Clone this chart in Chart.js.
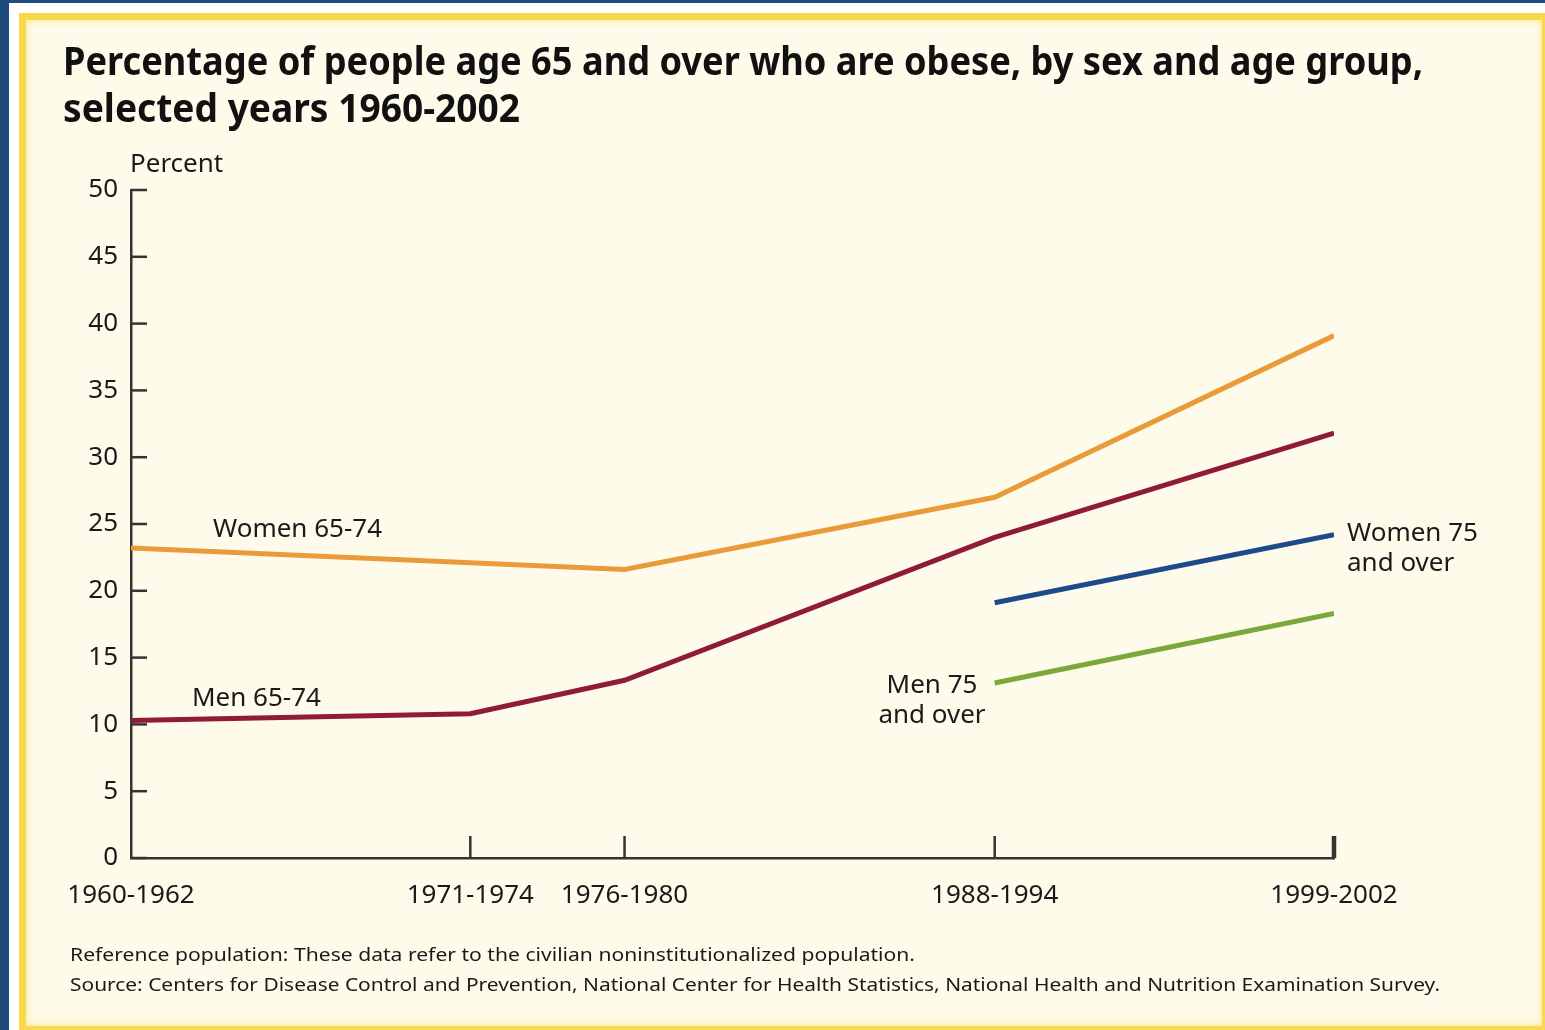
<!DOCTYPE html>
<html>
<head>
<meta charset="utf-8">
<script src="https://cdn.jsdelivr.net/npm/chart.js@4.4.1/dist/chart.umd.min.js"></script>
<style>
  html, body { margin: 0; padding: 0; }
  body { width: 1545px; height: 1030px; background: #1f4a7e; position: relative; overflow: hidden; }
  #gap { position: absolute; left: 9px; top: 3px; right: 0; bottom: 0; background: #ffffff; }
  #frame { position: absolute; left: 19px; top: 13px; width: 1530px; height: 1020px; box-sizing: border-box;
           border: 7px solid #f7d94a; background: #fffbea; box-shadow: inset 0 0 8px #fbe68a; }
  #myChart { position: absolute; left: 0; top: 0; }
</style>
</head>
<body>
<div id="gap"></div>
<div id="frame"></div>
<canvas id="myChart" width="1545" height="1030"></canvas>
<script>
const periods = ['1960-1962', '1971-1974', '1976-1980', '1988-1994', '1999-2002'];
const periodStart = [1960, 1971, 1976, 1988, 1999]; // 구간 시작 연도 = x 위치
const women6574 = [23.2, 22.1, 21.6, 27.0, 39.1];
const men6574 = [10.3, 10.8, 13.3, 24.0, 31.8];
const women75 = [null, null, null, 19.1, 24.2];
const men75 = [null, null, null, 13.1, 18.3];
const yTicks = [0, 5, 10, 15, 20, 25, 30, 35, 40, 45, 50];

const FONT = '"Noto Sans", sans-serif';
const INK = '#1a1a1a';

function toPoints(values) {
  return periodStart.map((x, i) => ({x: x, y: values[i]}));
}

// 가로 폭에 맞춰 글자 그리기
function fitText(ctx, text, x, y, width) {
  const w = ctx.measureText(text).width;
  ctx.save();
  ctx.translate(x, y);
  ctx.scale(width / w, 1);
  ctx.fillText(text, 0, 0);
  ctx.restore();
}

const lineLabels = [
  {lines: ['Women 65-74'], x: 213, y: 530, align: 'left'},
  {lines: ['Men 65-74'], x: 192, y: 699, align: 'left'},
  {lines: ['Women 75', 'and over'], x: 1347, y: 534, align: 'left'},
  {lines: ['Men 75', 'and over'], x: 932, y: 686, align: 'center'}
];

const decor = {
  id: 'decor',
  afterDraw(chart) {
    const ctx = chart.ctx;
    const xs = chart.scales.x, ys = chart.scales.y;
    const area = chart.chartArea;
    ctx.save();
    ctx.strokeStyle = '#333333';
    ctx.lineCap = 'butt';
    // y 눈금 (안쪽)
    ctx.lineWidth = 2.5;
    yTicks.forEach(v => {
      const py = ys.getPixelForValue(v);
      ctx.beginPath();
      ctx.moveTo(area.left, py);
      ctx.lineTo(area.left + 16, py);
      ctx.stroke();
    });
    // x 눈금 (위쪽)
    periodStart.slice(1).forEach((v, i) => {
      const px = xs.getPixelForValue(v);
      ctx.lineWidth = i === periodStart.length - 2 ? 4.5 : 2.5;
      ctx.beginPath();
      ctx.moveTo(px, area.bottom);
      ctx.lineTo(px, area.bottom - 22);
      ctx.stroke();
    });

    ctx.fillStyle = '#111111';
    ctx.textAlign = 'left';
    ctx.textBaseline = 'alphabetic';
    ctx.font = 'bold 40px ' + FONT;
    fitText(ctx, 'Percentage of people age 65 and over who are obese, by sex and age group,', 63, 75, 1360);
    fitText(ctx, 'selected years 1960-2002', 63, 122, 457);

    ctx.fillStyle = INK;
    ctx.font = '26px ' + FONT;
    ctx.fillText('Percent', 130, 172);

    ctx.textBaseline = 'middle';
    lineLabels.forEach(l => {
      ctx.textAlign = l.align;
      l.lines.forEach((t, i) => ctx.fillText(t, l.x, l.y + i * 30));
    });

    ctx.textAlign = 'left';
    ctx.textBaseline = 'alphabetic';
    ctx.font = '18px ' + FONT;
    fitText(ctx, 'Reference population: These data refer to the civilian noninstitutionalized population.', 70, 961, 845);
    fitText(ctx, 'Source: Centers for Disease Control and Prevention, National Center for Health Statistics, National Health and Nutrition Examination Survey.', 70, 991, 1370);
    ctx.restore();
  }
};

function series(values, color) {
  return {
    data: toPoints(values),
    borderColor: color,
    borderWidth: 5,
    borderCapStyle: 'butt',
    borderJoinStyle: 'miter',
    pointRadius: 0,
    tension: 0,
    spanGaps: false
  };
}

const ctx = document.getElementById('myChart').getContext('2d');
new Chart(ctx, {
  type: 'line',
  data: {
    datasets: [
      series(women6574, '#e99b3a'),
      series(men6574, '#8f1b37'),
      series(women75, '#1e4a8c'),
      series(men75, '#7aa83a')
    ]
  },
  options: {
    responsive: false,
    animation: false,
    devicePixelRatio: 1,
    layout: {padding: {top: 190, right: 211, left: 0, bottom: 0}},
    plugins: {legend: {display: false}, tooltip: {enabled: false}},
    scales: {
      x: {
        type: 'linear',
        min: periodStart[0],
        max: periodStart[periodStart.length - 1],
        afterFit: s => { s.height = 172; },
        afterBuildTicks: s => { s.ticks = periodStart.map(v => ({value: v})); },
        grid: {display: false, drawTicks: false},
        border: {display: true, color: '#333333', width: 2.5},
        ticks: {
          autoSkip: false,
          maxRotation: 0,
          padding: 22,
          color: INK,
          font: {family: FONT, size: 26},
          callback: v => periods[periodStart.indexOf(v)]
        }
      },
      y: {
        min: 0,
        max: 50,
        afterFit: s => { s.width = 131; },
        afterBuildTicks: s => { s.ticks = yTicks.map(v => ({value: v})); },
        grid: {display: false, drawTicks: false},
        border: {display: true, color: '#333333', width: 2.5},
        ticks: {
          padding: 13,
          color: INK,
          font: {family: FONT, size: 26}
        }
      }
    }
  },
  plugins: [decor]
});
</script>
</body>
</html>
